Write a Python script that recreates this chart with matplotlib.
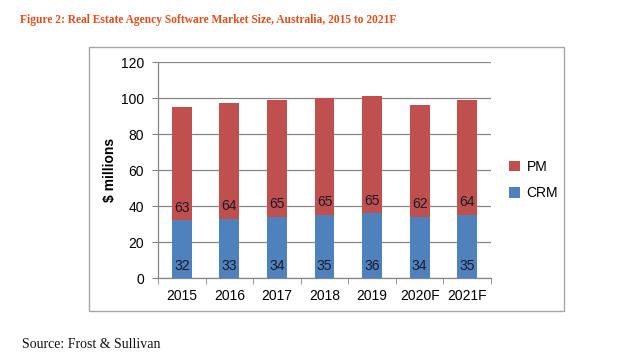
import matplotlib
matplotlib.use("Agg")
import matplotlib.pyplot as plt
from matplotlib.patches import Rectangle
import numpy as np

years = ["2015", "2016", "2017", "2018", "2019", "2020F", "2021F"]
crm = [32, 33, 34, 35, 36, 34, 35]
pm = [63, 64, 65, 65, 65, 62, 64]
y_ticks = [0, 20, 40, 60, 80, 100, 120]

W, H = 617, 357
fig = plt.figure(figsize=(W / 100, H / 100), dpi=100)
fig.patch.set_facecolor("white")

def fx(px):
    return px / W

def fy(py):
    return 1 - py / H

# chart outer box
fig.patches.append(Rectangle((fx(89), fy(311)), fx(564) - fx(89), fy(47) - fy(311),
                             transform=fig.transFigure, fill=False,
                             edgecolor="#A6A6A6", linewidth=1.0))

ax = fig.add_axes([fx(158), fy(278), fx(491) - fx(158), fy(62) - fy(278)])
x = np.arange(len(years))
bw = 0.42
crm_c = "#4F81BD"
pm_c = "#C0504D"
b1 = ax.bar(x, crm, bw, color=crm_c, label="CRM", zorder=3)
b2 = ax.bar(x, pm, bw, bottom=crm, color=pm_c, label="PM", zorder=3)

font = "Liberation Sans"
for i in range(len(years)):
    ax.annotate(str(crm[i]), (x[i], 0), xytext=(0, 9), textcoords="offset points",
                ha="center", va="center", fontsize=10, color="#1a1a2a", family=font, zorder=4)
    ax.annotate(str(pm[i]), (x[i], crm[i]), xytext=(0, 9), textcoords="offset points",
                ha="center", va="center", fontsize=10, color="#1a1a2a", family=font, zorder=4)

ax.set_xlim(-0.5, len(years) - 0.5)
ax.set_ylim(0, 120)
ax.set_yticks(y_ticks)
ax.set_yticklabels([str(v) for v in y_ticks], fontsize=10, family=font)
ax.set_xticks(x)
ax.set_xticklabels(years, fontsize=10, family=font)
ax.set_xticks(np.arange(-0.5, len(years), 1.0), minor=True)
ax.tick_params(axis="x", which="major", length=0, pad=8)
ax.tick_params(axis="x", which="minor", length=4, color="#868686", direction="out")
ax.tick_params(axis="y", which="major", length=4, color="#868686", direction="out", pad=6)
ax.grid(axis="y", color="#868686", linewidth=0.9, zorder=0)
for s in ["top", "right"]:
    ax.spines[s].set_visible(False)
for s in ["left", "bottom"]:
    ax.spines[s].set_color("#868686")
    ax.spines[s].set_linewidth(0.9)
ax.set_facecolor("white")

ax.set_ylabel("$ millions", fontsize=10, fontweight="bold", family=font, labelpad=3)

handles = [b2, b1]
leg = fig.legend(handles, ["PM", "CRM"], loc="center left",
                 bbox_to_anchor=(fx(496), fy(180)), frameon=False,
                 prop={"family": font, "size": 10}, handlelength=0.8, handleheight=0.8,
                 labelspacing=0.9, handletextpad=0.5)

fig.text(fx(20), fy(20), "Figure 2: Real Estate Agency Software Market Size, Australia, 2015 to 2021F",
         ha="left", va="center", fontsize=8.3, fontweight="bold", color="#E04E1B",
         family="Liberation Serif")
fig.text(fx(22), fy(344), "Source: Frost & Sullivan", ha="left", va="center",
         fontsize=10, color="#111111", family="Liberation Serif")

fig.savefig("out.png", dpi=100, facecolor="white")
